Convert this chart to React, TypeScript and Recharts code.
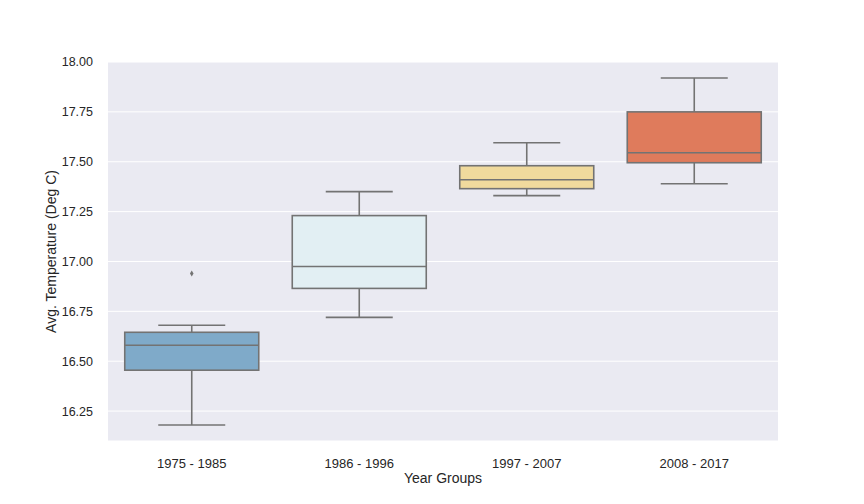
import { ComposedChart, Bar, XAxis, YAxis, CartesianGrid } from 'recharts';

document.body.style.margin = '0';

const groups = ['1975 - 1985', '1986 - 1996', '1997 - 2007', '2008 - 2017'];
const whiskerLow = [16.18, 16.72, 17.33, 17.39];
const quartile1 = [16.455, 16.865, 17.365, 17.495];
const medians = [16.58, 16.975, 17.41, 17.545];
const quartile3 = [16.645, 17.23, 17.48, 17.75];
const whiskerHigh = [16.68, 17.35, 17.595, 17.92];
const outliers: (number | null)[] = [16.94, null, null, null];
const boxColors = ['#7faac9', '#e2eff3', '#f0da9d', '#df7b5c'];
const yTicks = [16.25, 16.5, 16.75, 17.0, 17.25, 17.5, 17.75, 18.0];

const data = groups.map((g, i) => ({
  group: g,
  lo: whiskerLow[i],
  q1: quartile1[i],
  med: medians[i],
  q3: quartile3[i],
  hi: whiskerHigh[i],
  outlier: outliers[i],
  color: boxColors[i],
}));

const LINE = '#737373';
const FONT = '"Liberation Sans", Arial, sans-serif';

// the bar spans lo..hi, so its height gives px per unit on the y scale
function BoxShape(props: any) {
  const { x, y, width, height, payload } = props;
  const top = Math.min(y, y + height);
  const h = Math.abs(height);
  const ppu = h / (payload.hi - payload.lo);
  const py = (v: number) => top + (payload.hi - v) * ppu;
  const cx = x + width / 2;
  const cap = width / 4;
  const yq3 = py(payload.q3);
  const yq1 = py(payload.q1);
  return (
    <g>
      <line x1={cx} x2={cx} y1={py(payload.hi)} y2={yq3} stroke={LINE} strokeWidth={1.6} />
      <line x1={cx} x2={cx} y1={yq1} y2={py(payload.lo)} stroke={LINE} strokeWidth={1.6} />
      <line x1={cx - cap} x2={cx + cap} y1={py(payload.hi)} y2={py(payload.hi)} stroke={LINE} strokeWidth={1.6} />
      <line x1={cx - cap} x2={cx + cap} y1={py(payload.lo)} y2={py(payload.lo)} stroke={LINE} strokeWidth={1.6} />
      <rect x={x} y={yq3} width={width} height={yq1 - yq3} fill={payload.color} stroke={LINE} strokeWidth={1.6} />
      <line x1={x} x2={x + width} y1={py(payload.med)} y2={py(payload.med)} stroke={LINE} strokeWidth={1.6} />
      {payload.outlier != null && (
        <path
          d={`M${cx},${py(payload.outlier) - 3} L${cx + 1.8},${py(payload.outlier)} L${cx},${py(payload.outlier) + 3} L${cx - 1.8},${py(payload.outlier)} Z`}
          fill={LINE}
        />
      )}
    </g>
  );
}

function YLabel(props: any) {
  const vb = props.viewBox;
  const cx = vb.x + 7.5;
  const cy = vb.y + vb.height / 2;
  return (
    <text
      x={cx}
      y={cy}
      transform={`rotate(-90, ${cx}, ${cy})`}
      textAnchor="middle"
      fill="#262626"
      fontSize={14}
      fontFamily={FONT}
    >
      Avg. Temperature (Deg C)
    </text>
  );
}

function XLabel(props: any) {
  const vb = props.viewBox;
  return (
    <text
      x={vb.x + vb.width / 2}
      y={vb.y + 42}
      textAnchor="middle"
      fill="#262626"
      fontSize={14}
      fontFamily={FONT}
    >
      Year Groups
    </text>
  );
}

export default function App() {
  return (
    <ComposedChart
      width={864}
      height={504}
      data={data}
      margin={{ top: 62, right: 86, left: 48, bottom: 33 }}
      barCategoryGap="10%"
    >
      <CartesianGrid vertical={false} stroke="#ffffff" strokeWidth={1} fill="#eaeaf2" />
      <XAxis
        dataKey="group"
        axisLine={false}
        tickLine={false}
        tickMargin={12}
        height={30}
        tick={{ fill: '#262626', fontSize: 13, fontFamily: FONT }}
        label={<XLabel />}
      />
      <YAxis
        type="number"
        domain={[16.1, 18.0]}
        ticks={yTicks}
        tickFormatter={(v: number) => v.toFixed(2)}
        allowDataOverflow
        axisLine={false}
        tickLine={false}
        tickMargin={9}
        width={60}
        tick={{ fill: '#262626', fontSize: 12.5, fontFamily: FONT }}
        label={<YLabel />}
      />
      <Bar
        dataKey={(d: any) => [d.lo, d.hi]}
        shape={<BoxShape />}
        isAnimationActive={false}
      />
    </ComposedChart>
  );
}
